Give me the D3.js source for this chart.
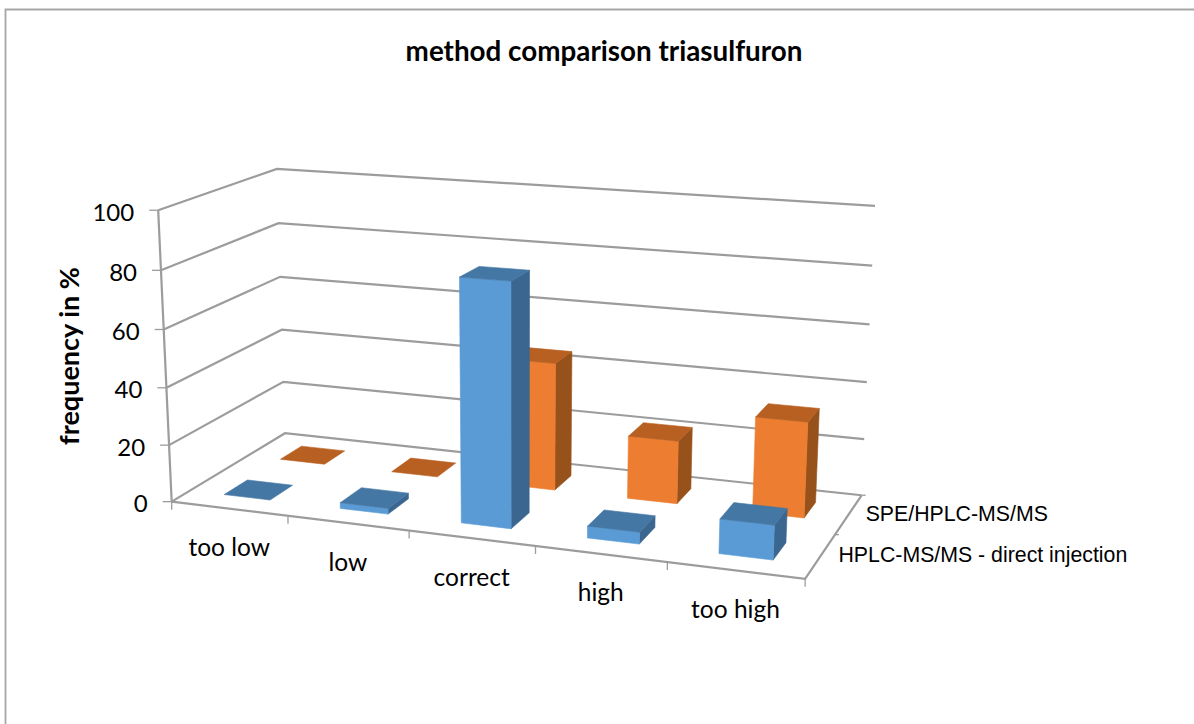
<!DOCTYPE html>
<html><head><meta charset="utf-8">
<script src="https://cdn.jsdelivr.net/npm/d3@7"></script>
<style>html,body{margin:0;padding:0;background:#fff}svg{display:block}</style>
</head><body><svg id="c" width="1194" height="724"></svg>
<script>
const categories = ["too low","low","correct","high","too high"];
const seriesNames = ["HPLC-MS/MS - direct injection","SPE/HPLC-MS/MS"];
const directInjection = [0,2,82.5,4,11.5];
const speValues = [0,0,45,22,33];
const yTicks = [0,20,40,60,80,100];
const chartTitle = "method comparison triasulfuron";
const yTitle = "frequency in %";

// projective camera fitted to the corners of the plot box: [u,v,w] -> [px,py]
const anchors = [
  [[0,0,0],[171.7,501.7]],[[0,0,1],[158.3,210]],
  [[0,1,0],[285,433.3]],[[0,1,1],[276.7,169]],
  [[1,0,0],[805,579]],
  [[1,1,0],[861.7,495]],[[1,1,1],[875,206]]
];
function solve(A,b){
  const n=b.length, M=A.map((r,i)=>[...r,b[i]]);
  for(let i=0;i<n;i++){
    let p=i; for(let k=i+1;k<n;k++) if(Math.abs(M[k][i])>Math.abs(M[p][i])) p=k;
    [M[i],M[p]]=[M[p],M[i]];
    for(let k=0;k<n;k++) if(k!==i){const f=M[k][i]/M[i][i]; for(let j=i;j<=n;j++) M[k][j]-=f*M[i][j];}
  }
  return M.map((r,i)=>r[n]/r[i]);
}
const rows=[],rhs=[];
anchors.forEach(([[u,v,w],[x,y]])=>{
  rows.push([u,v,w,1,0,0,0,0,-x*u,-x*v,-x*w]);rhs.push(x);
  rows.push([0,0,0,0,u,v,w,1,-y*u,-y*v,-y*w]);rhs.push(y);
});
const AtA=d3.range(11).map(i=>d3.range(11).map(j=>d3.sum(rows,r=>r[i]*r[j])));
const Atb=d3.range(11).map(i=>d3.sum(rows,(r,k)=>r[i]*rhs[k]));
const P=solve(AtA,Atb);
const proj=(u,v,w)=>{const d=P[8]*u+P[9]*v+P[10]*w+1;
  return [(P[0]*u+P[1]*v+P[2]*w+P[3])/d,(P[4]*u+P[5]*v+P[6]*w+P[7])/d];};

const xBand=d3.scaleBand().domain(categories).range([0,1]);
const zBand=d3.scaleBand().domain(seriesNames).range([0,1]);
const yScale=d3.scaleLinear().domain([0,100]).range([0,1]);
const barFrac=0.4;
const line=d3.line();
const svg=d3.select("#c");

svg.append("path").attr("d","M5.5,724V9.5H1194").attr("fill","none").attr("stroke","#a6a6a6").attr("stroke-width",1.8);

const gridColor="#9c9c9c";
const grid=svg.append("g").attr("fill","none").attr("stroke",gridColor).attr("stroke-width",2.2);
yTicks.forEach(t=>{
  const w=yScale(t);
  grid.append("path").attr("d",line([proj(0,0,w),proj(0,1,w),proj(1,1,w)]));
  const p=proj(0,0,w);
  grid.append("path").attr("d",line([p,[p[0]-9,p[1]]])).attr("stroke-width",1.3);
});
grid.append("path").attr("d",line([proj(0,0,0),proj(0,0,1)]));
grid.append("path").attr("d",line([proj(0,0,0),proj(1,0,0),proj(1,1,0)]));
d3.range(0,6).forEach(i=>{const p=proj(i/5,0,0);
  grid.append("path").attr("d",line([p,[p[0],p[1]+8]])).attr("stroke-width",1.3);});
[0.5,1].forEach(v=>{const p=proj(1,v,0);
  grid.append("path").attr("d",line([p,[p[0]+4,p[1]]])).attr("stroke-width",1.3);});

const palettes={
  [seriesNames[0]]:{front:"#5b9bd5",top:"#4577a5",side:"#3b6690"},
  [seriesNames[1]]:{front:"#ed7d31",top:"#b86022",side:"#97521c"}
};
function bar(cat,name,val){
  const c=palettes[name];
  const pad=(1-barFrac)/2;
  const u0=xBand(cat)+xBand.bandwidth()*pad, u1=u0+xBand.bandwidth()*barFrac;
  const v0=zBand(name)+zBand.bandwidth()*pad, v1=v0+zBand.bandwidth()*barFrac;
  const w=yScale(val);
  const g=svg.append("g").attr("stroke-width",0.6).attr("stroke-linejoin","round");
  const face=(pts,col)=>g.append("path").attr("d",line(pts)+"Z").attr("fill",col).attr("stroke",col);
  if(val>0){
    face([proj(u1,v0,0),proj(u1,v1,0),proj(u1,v1,w),proj(u1,v0,w)],c.side);
    face([proj(u0,v0,0),proj(u1,v0,0),proj(u1,v0,w),proj(u0,v0,w)],c.front);
  }
  face([proj(u0,v0,w),proj(u1,v0,w),proj(u1,v1,w),proj(u0,v1,w)],c.top);
}
[[seriesNames[1],speValues],[seriesNames[0],directInjection]].forEach(([name,vals])=>{
  categories.forEach((cat,i)=>bar(cat,name,vals[i]));
});

const txt=(x,y,s,o={})=>svg.append("text").attr("x",x).attr("y",y).text(s)
  .attr("dominant-baseline","central")
  .attr("font-family",o.font||"Lato").attr("font-size",o.size||22)
  .attr("font-weight",o.weight||400).attr("text-anchor",o.anchor||"middle").attr("fill","#000")
  .attr("transform",o.rot?`rotate(${o.rot} ${x} ${y})`:null);
txt(604,50,chartTitle,{size:27.8,weight:700});
txt(68,356,yTitle,{size:27,weight:700,rot:-90});
yTicks.forEach(t=>{const p=proj(0,0,yScale(t));
  txt(p[0]-24,p[1]+1,String(t),{size:24,anchor:"end"});});
categories.forEach(c=>{
  const p=proj(xBand(c)+xBand.bandwidth()/2,0,0);
  txt(p[0],p[1]+38,c,{size:24.5});
});
seriesNames.forEach(n=>{
  const p=proj(1,zBand(n)+zBand.bandwidth()/2,0);
  const first=n===seriesNames[0];
  txt(p[0]+(first?18:17),p[1]+(first?-1:0),n,{font:"Liberation Sans",size:21.3,anchor:"start"});
});
</script></body></html>
